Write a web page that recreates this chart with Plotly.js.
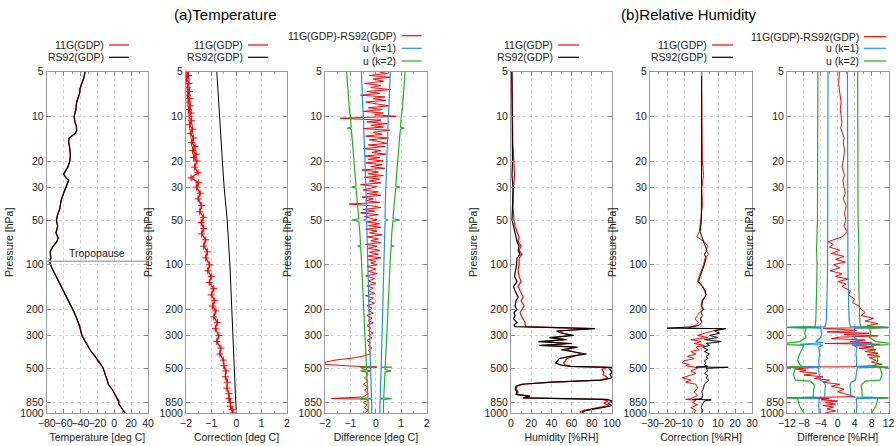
<!DOCTYPE html>
<html>
<head>
<meta charset="utf-8">
<script src="https://cdn.plot.ly/plotly-3.0.1.min.js"></script>
<style>
  html, body { margin: 0; padding: 0; background: #fff; }
  #chart { width: 896px; height: 446px; }
</style>
</head>
<body>
<div id="chart"></div>
<script>
// pressure ticks shared by all six panels
const pressureTicks = [5, 10, 20, 30, 50, 100, 200, 300, 500, 850, 1000]
const tropopause = 95

// (a) temperature [deg C]: [pressure, value]
const temp11G = [[5,-34.5],[5.5,-36],[6,-38.5],[6.5,-40.5],[7,-41],[7.5,-43],[8,-44.5],[9,-45.5],[10,-47.5],[11,-46.5],[11.5,-45],[12.5,-44.5],[13,-46],[14,-53.5],[15,-54],[16,-53],[18,-52],[20,-52.5],[22,-55],[24.5,-60],[26,-57],[27,-54],[30,-57.5],[33,-60],[37,-63],[42,-64.5],[46,-67],[50,-68.5],[55,-67],[61,-69],[66,-66.5],[70,-68],[76,-73],[82,-76],[90,-75],[96,-76.5],[105,-74],[115,-70.5],[128,-66],[142,-62],[160,-57],[180,-52.5],[204,-48.5],[230,-44.5],[260,-41],[300,-38],[340,-33],[380,-28],[420,-22],[446,-18],[470,-16],[493,-13.5],[520,-12],[560,-10.5],[600,-8],[640,-7],[700,-2],[750,1],[790,2.5],[830,4.5],[870,5.5],[920,8.5],[960,10.5],[1000,12.8]]
const tempRS92 = [[5,-34.5],[5.5,-36],[6,-38.5],[6.5,-40.5],[7,-41],[7.5,-43],[8,-44.5],[9,-45.5],[10,-47.5],[11,-46.5],[11.5,-45],[12.5,-44.5],[13,-46],[14,-53.5],[15,-54],[16,-53],[18,-52],[20,-52.5],[22,-55],[24.5,-60],[26,-57],[27,-54],[30,-57.5],[33,-60],[37,-63],[42,-64.5],[46,-67],[50,-68.5],[55,-67],[61,-69],[66,-66.5],[70,-68],[76,-73],[82,-76],[90,-75],[96,-76.5],[105,-74],[115,-70.5],[128,-66],[142,-62],[160,-57],[180,-52.5],[204,-48.5],[230,-44.5],[260,-41],[300,-38.5],[340,-33],[380,-28],[420,-22],[446,-19.5],[470,-16],[493,-13.5],[520,-12],[560,-10.5],[600,-8.5],[640,-7],[700,-2],[750,1],[790,2.5],[830,5.5],[870,5.5],[920,8.5],[960,10.5],[1000,12.8]]

const corrT11G = [[5,-1.97],[5.3,-1.9],[5.6,-1.98],[6,-1.88],[6.4,-1.95],[6.8,-1.86],[7.2,-1.94],[7.6,-1.85],[8,-1.92],[8.5,-1.83],[9,-1.9],[9.5,-1.8],[10,-1.88],[10.7,-1.78],[11.4,-1.86],[12.2,-1.74],[13,-1.83],[14,-1.7],[15,-1.78],[16,-1.64],[17,-1.74],[18,-1.6],[19,-1.7],[20,-1.57],[22,-1.66],[24,-1.52],[26,-1.8],[28,-1.5],[30,-1.58],[33,-1.44],[36,-1.52],[40,-1.38],[44,-1.46],[48,-1.3],[52,-1.4],[57,-1.3],[62,-1.38],[68,-1.22],[75,-1.3],[82,-1.15],[90,-1.22],[100,-1.06],[110,-1.14],[120,-1.0],[132,-1.08],[145,-0.9],[160,-1.0],[175,-0.86],[190,-0.95],[205,-0.82],[225,-0.9],[245,-0.76],[270,-0.84],[300,-0.7],[330,-0.78],[365,-0.62],[400,-0.66],[440,-0.52],[480,-0.5],[520,-0.42],[570,-0.44],[620,-0.36],[680,-0.38],[740,-0.3],[800,-0.3],[850,-0.24],[900,-0.24],[950,-0.17],[1000,-0.13]]
const corrTRS92 = [[5,-0.78],[10,-0.68],[20,-0.56],[30,-0.49],[50,-0.37],[100,-0.26],[200,-0.19],[300,-0.16],[500,-0.09],[850,-0.03],[1000,0.0]]

const diffT = [
  [5,0.1],[5.15,0.45],[5.3,-0.25],[5.45,0.55],[5.6,-0.1],[5.8,0.3],[6,-0.45],[6.2,0.2],[6.4,-0.2],[6.6,0.6],
  [6.8,-0.35],[7,0.15],[7.2,-0.6],[7.4,0.35],[7.6,-0.1],[7.8,0.4],[8,-0.4],[8.25,0.05],[8.5,0.5],[8.75,-0.3],
  [9,0.25],[9.25,-0.5],[9.5,0.3],[9.75,-0.05],[10,0.8],
  [10.3,-1.4],[10.6,0.2],[10.9,-0.35],[11.2,0.45],[11.5,-0.2],[11.8,0.3],[12.1,-0.5],[12.4,0.55],[12.8,-0.1],[13.2,0.25],
  [13.6,-0.4],[14,0.5],[14.4,-0.25],[14.8,0.1],[15.2,0.45],[15.6,-0.3],[16,0.35],[16.5,-0.5],[17,0.2],[17.5,-0.15],
  [18,0.4],[18.5,-0.45],[19,0.15],[19.5,-0.3],[20,0.3],
  [20.6,-0.4],[21.2,0.25],[21.8,-0.2],[22.4,0.35],[23,-0.55],[23.7,0.1],[24.4,-0.3],[25.1,0.3],[25.8,-0.45],[26.5,0.15],
  [27.3,-0.25],[28.1,0.2],[28.9,-0.6],[29.7,0.05],[30.5,-0.2],
  [31.4,-0.5],[32.3,0.1],[33.2,-0.35],[34.1,0.2],[35,-0.55],[36,-0.1],[37,-0.4],[38,0.15],[39,-1.05],[40,-0.2],
  [41.2,0.2],[42.4,-0.5],[43.6,-0.05],[44.8,-0.6],[46,0.1],[47.4,-0.45],[48.8,-0.15],[50,0.05],
  [51.5,-0.35],[53,0.15],[54.5,-0.3],[56,0.2],[57.7,-0.4],[59.4,0.05],[61,-0.25],[63,0.25],[65,-0.35],[67,0.1],
  [69,-0.2],[71,0.2],[73,-0.4],[75,0.05],[77.5,-0.3],[80,0.15],[82.5,-0.25],[85,0.1],[87.5,-0.35],[90,0.2],
  [92.5,-0.3],[95,0.0],[97.5,-0.2],[100,0.05],
  [103,-0.35],[107,0.0],[111,-0.3],[115,0.05],[119,-0.4],[124,-0.05],[129,-0.3],[134,0.0],[139,-0.35],[144,-0.1],
  [150,-0.3],[156,-0.05],[162,-0.4],[168,-0.1],[175,-0.3],[182,-0.05],[189,-0.35],[196,-0.15],[204,-0.3],[212,-0.1],
  [220,-0.35],[229,-0.15],[238,-0.3],[247,-0.1],[257,-0.35],[267,-0.2],[278,-0.3],[289,-0.1],[300,-0.3],[312,-0.15],
  [324,-0.35],[337,-0.2],[350,-0.3],[364,-0.15],[378,-0.3],[393,-0.2],[400,-0.25],
  [410,-0.4],[425,-0.85],[440,-1.6],[455,-2.0],[470,-2.0],[482,-1.0],[488,-0.3],[490,0.05],[493,-0.6],[505,-0.5],
  [520,-0.2],[535,-0.4],[550,-0.3],[580,-0.45],[610,-0.3],[640,-0.5],[670,-0.3],[700,-0.45],[740,-0.3],[780,-0.5],
  [798,-1.75],[806,-0.4],[820,-0.3],[850,-0.5],[880,-0.35],[920,-0.45],[960,-0.3],[1000,-0.45]
]
const uT1 = [[5,0.57],[6,0.56],[7,0.54],[8,0.53],[9,0.51],[10,0.49],[11,0.48],[12,0.47],[14,0.45],[16,0.44],[18,0.43],[20,0.42],[23,0.41],[26,0.4],[30,0.39],[35,0.38],[40,0.37],[45,0.36],[49,0.36],[50,0.48],[51,0.36],[60,0.35],[70,0.34],[80,0.34],[90,0.33],[100,0.33],[120,0.32],[140,0.31],[160,0.3],[180,0.29],[200,0.28],[230,0.27],[260,0.26],[300,0.25],[350,0.24],[400,0.23],[450,0.22],[488,0.21],[490,0.4],[492,0.21],[550,0.2],[600,0.19],[700,0.18],[790,0.17],[800,0.3],[810,0.17],[900,0.16],[1000,0.16]]
const uT2 = [[5,1.15],[6,1.12],[7,1.1],[8,1.07],[9,1.04],[10,1.0],[11,0.99],[11.8,0.97],[12,1.12],[12.2,0.97],[13,0.95],[15,0.92],[17,0.89],[20,0.86],[23,0.83],[26,0.8],[29.5,0.78],[30,0.95],[30.5,0.78],[35,0.75],[40,0.72],[45,0.7],[49,0.67],[50,0.95],[51,0.67],[60,0.63],[70,0.6],[74,0.6],[75,0.72],[76,0.6],[90,0.57],[100,0.56],[120,0.54],[150,0.52],[200,0.49],[250,0.46],[300,0.43],[400,0.39],[480,0.37],[488,0.37],[490,0.63],[492,0.37],[510,0.36],[520,0.6],[530,0.36],[600,0.35],[700,0.33],[790,0.31],[800,0.62],[810,0.31],[900,0.3],[1000,0.3]]

// (b) relative humidity [%RH]
const rh11G = [[5,1.0],[7,1.5],[10,1.5],[15,1.8],[20,2.5],[25,3.5],[30,2.5],[40,2.0],[50,3.0],[55,4],[60,6],[65,8],[70,7],[75,10],[80,8],[85,11],[90,8],[100,8],[110,7],[120,8],[130,10],[140,7],[150,9],[165,12],[175,10],[190,13],[200,11],[210,9],[220,10],[232,12],[245,14],[255,14],[262,15],[270,80],[280,48],[290,52],[300,60],[310,42],[320,52],[330,32],[340,56],[350,35],[360,62],[375,55],[385,62],[400,70],[415,62],[430,55],[445,54],[460,52],[475,54],[485,60],[492,95],[510,90],[530,92],[550,91],[580,96],[600,88],[620,42],[640,12],[660,6],[690,5],[720,7],[750,6],[770,18],[790,12],[810,90],[830,96],[860,92],[890,97],[910,90],[940,78],[960,72],[985,68],[1000,70]]
const rhRS92 = [[5,0.8],[7,1.0],[10,1.2],[15,1.0],[20,1.5],[25,1.0],[30,2.0],[40,1.5],[50,1.0],[55,2.5],[60,3.5],[65,5],[70,6],[75,8],[80,7],[85,9],[90,6],[100,5.5],[110,4.5],[120,3.5],[130,6],[140,2.5],[150,4],[165,7],[175,5],[190,4],[200,6],[210,3],[220,4],[232,2.5],[245,6],[255,3],[262,4],[270,83],[280,45],[290,50],[300,62],[310,38],[320,55],[330,27],[340,60],[350,28],[360,66],[375,50],[385,60],[400,75],[415,58],[430,48],[445,46],[460,44],[475,50],[485,58],[492,100],[510,98],[530,100],[550,98],[580,100],[600,90],[620,40],[640,10],[660,5],[690,4],[720,6],[750,5],[770,19],[790,12],[810,95],[830,100],[860,96],[890,100],[910,94],[940,80],[960,75],[985,70],[1000,72]]

const corrRH11G = [[5,0.3],[10,0.6],[15,1.0],[20,0.8],[25,1.5],[30,0.5],[40,0.8],[50,-0.2],[60,-1.0],[65,-2.5],[70,2.0],[75,4.0],[80,3.0],[85,4.5],[90,2.5],[100,1.5],[110,0.0],[120,-1.0],[130,-2.0],[140,0.5],[150,2.0],[160,3.0],[175,0.5],[190,0.0],[200,1.0],[210,-1.0],[220,-2.0],[232,-3.5],[245,-1.5],[255,-3.0],[262,-5.5],[268,-8],[270,12],[280,6],[290,2],[300,-2],[310,4],[320,-6],[330,0],[340,-4],[350,2],[360,-3],[375,-1],[385,-6],[400,-3],[415,-8],[430,-4],[445,-10],[460,-11],[470,-7],[480,-9],[490,-4],[500,-2],[520,-6],[540,-3],[560,-7],[580,-11],[600,-6],[620,-9],[640,-3],[680,-2],[720,-4],[760,-2],[800,-6],[810,-9],[820,-3],[850,-5],[880,-2],[920,-6],[960,-3],[1000,-4]]
const corrRHRS92 = [[5,0.4],[10,0.5],[20,0.5],[30,0.3],[50,0.2],[60,-0.5],[70,1.5],[75,2.5],[80,3.5],[85,2.0],[90,3.0],[100,2.0],[110,0.5],[120,-0.5],[130,-1.5],[140,1.0],[150,2.5],[160,3.0],[175,1.0],[190,0.5],[200,1.5],[210,0.0],[220,1.0],[232,-0.5],[245,0.5],[255,-1.0],[262,-4],[268,-20],[270,14.5],[280,8],[290,11],[300,5],[310,10],[320,2],[330,12],[340,3],[350,5],[360,1],[375,4],[385,2],[400,5],[415,3],[430,4],[445,2],[460,3],[475,2],[485,4],[490,-3],[492,16],[500,3],[520,4],[540,2],[560,4],[580,3],[600,4.5],[620,3],[640,2],[680,1.5],[720,0.5],[760,1],[800,0.5],[810,-5],[815,6],[830,2],[860,1],[890,0.5],[920,0],[960,1],[1000,0.5]]

const diffRH = [[5,0.4],[6,0.2],[7,0.5],[8,0.8],[9,0.6],[10,0.8],[11,1.0],[12,0.7],[13,1.2],[14,1.5],[15,1.3],[17,1.6],[20,1.3],[22,1.0],[25,1.6],[27,1.2],[30,1.5],[33,1.8],[36,1.3],[40,2.0],[45,1.6],[50,1.9],[55,1.5],[60,2.2],[65,1.0],[70,-2.3],[73,-1.0],[76,-2.0],[80,0.5],[84,-1.5],[88,1.5],[92,-0.5],[96,1.8],[100,-1.0],[105,0.5],[110,-1.8],[115,1.0],[120,-0.5],[125,2.5],[130,0.0],[135,2.0],[140,1.0],[150,3.0],[160,2.5],[170,4.0],[180,3.5],[190,5.0],[200,5.5],[210,6.5],[220,5.5],[230,8.5],[240,6.5],[250,9.5],[258,7.0],[263,9.5],[266,12],[268,-3.5],[272,0.0],[278,4.5],[284,-2.5],[290,7.5],[296,1.5],[302,9.5],[308,0.5],[315,-1.5],[322,6.5],[330,3.0],[336,8.0],[340,-3.0],[344,10],[350,3.5],[358,8.5],[366,5.0],[375,9.0],[385,6.5],[395,9.5],[405,7.0],[415,10],[425,7.5],[440,9.0],[455,8.0],[470,10.5],[480,8.0],[488,3.0],[490,-9.5],[495,-6.5],[505,-10],[515,-7.5],[525,-9.0],[540,-5.0],[555,-8.0],[570,-3.5],[585,-5.5],[600,-2.0],[620,-3.5],[640,0.5],[660,-1.5],[690,1.5],[720,0.0],[750,2.5],[775,4.0],[790,-9.5],[800,-2.0],[815,-4.0],[830,0.0],[850,-3.0],[870,-0.5],[890,-3.5],[910,-1.0],[940,-2.5],[970,-0.5],[1000,-3.0]]
const uRH1 = [[5,2.3],[20,2.3],[50,2.4],[100,2.4],[150,2.5],[200,2.6],[240,2.7],[262,3.0],[265,12],[268,4.0],[290,3.8],[310,4.0],[330,5.2],[336,3.5],[340,9],[344,9],[348,3.5],[360,4.5],[400,4.3],[450,4.5],[485,4.4],[490,12],[495,4.6],[550,4.4],[600,4.2],[620,3.2],[650,2.9],[700,3.0],[780,3.1],[790,12],[800,4.4],[900,4.5],[1000,4.4]]
const uRH2 = [[5,4.7],[20,4.7],[50,4.8],[80,5.0],[100,4.9],[150,5.0],[200,5.1],[240,5.2],[262,5.4],[265,12],[268,7.5],[290,7.8],[310,7.5],[330,9.0],[338,12],[346,12],[350,8.0],[370,8.5],[400,9.0],[440,9.5],[470,9.0],[485,8.5],[490,12],[495,10.0],[550,10.5],[600,10.0],[610,6.5],[650,5.5],[700,5.7],[780,5.8],[790,12],[800,9.5],[900,9.0],[1000,8.0]]

const RED = '#ff0000', BLACK = '#000000', BLUE = '#1f8ff0', GREEN = '#1fb01f'
const FONT = 'Liberation Sans, Arial, sans-serif'
const W = 896, H = 446

// panel frames in pixels: [left, right]
const panels = [[46.7, 148], [186, 287], [325, 426.7], [511, 612], [650, 752], [787, 888.5]]
const plotTop = 71.7, plotBottom = 413

const xRanges = [[-80, 40], [-2, 2], [-2, 2], [0, 100], [-30, 30], [-12, 12]]
const xSteps = [20, 1, 1, 20, 10, 4]
const xTitles = ['Temperature [deg C]', 'Correction [deg C]', 'Difference [deg C]',
                 'Humidity [%RH]', 'Correction [%RH]', 'Difference [%RH]']

function line(series, panel, color, width, sign) {
    const s = sign || 1
    return {
        x: series.map(d => s * d[1]),
        y: series.map(d => d[0]),
        type: 'scatter',
        mode: 'lines',
        xaxis: 'x' + (panel === 1 ? '' : panel),
        yaxis: 'y' + (panel === 1 ? '' : panel),
        line: { color: color, width: width || 1 },
        hoverinfo: 'skip'
    }
}

// correction of 11G temperature is drawn as line + small crosses
let corrTrace = line(corrT11G, 2, RED, 1.4)
corrTrace.mode = 'lines+markers'
corrTrace.marker = { symbol: 'cross-thin', size: 5, line: { color: RED, width: 1 } }

let data = [
    line(temp11G, 1, RED, 1.2),
    line(tempRS92, 1, BLACK, 1.2),
    {
        x: xRanges[0], y: [tropopause, tropopause], type: 'scatter', mode: 'lines',
        xaxis: 'x', yaxis: 'y', line: { color: '#aaaaaa', width: 1.5 }, hoverinfo: 'skip'
    },
    corrTrace,
    line(corrTRS92, 2, BLACK, 1),
    line(diffT, 3, RED, 1),
    line(uT1, 3, BLUE, 1.2), line(uT1, 3, BLUE, 1.2, -1),
    line(uT2, 3, GREEN, 1.2), line(uT2, 3, GREEN, 1.2, -1),
    line(rh11G, 4, RED, 1.2),
    line(rhRS92, 4, BLACK, 1.2),
    line(corrRH11G, 5, RED, 1),
    line(corrRHRS92, 5, BLACK, 1),
    line(diffRH, 6, RED, 1),
    line(uRH1, 6, BLUE, 1.2), line(uRH1, 6, BLUE, 1.2, -1),
    line(uRH2, 6, GREEN, 1.2), line(uRH2, 6, GREEN, 1.2, -1)
]

const tickFont = { family: FONT, size: 10.5, color: '#222' }

let layout = {
    width: W, height: H,
    margin: { l: 0, r: 0, t: 0, b: 0 },
    paper_bgcolor: '#fff', plot_bgcolor: '#fff',
    showlegend: false,
    hovermode: false,
    font: { family: FONT, size: 10.5, color: '#222' },
    annotations: [],
    shapes: []
}

const yDomain = [1 - plotBottom / H, 1 - plotTop / H]

panels.forEach((px, i) => {
    const n = i === 0 ? '' : String(i + 1)
    layout['xaxis' + n] = {
        domain: [px[0] / W, px[1] / W],
        anchor: 'y' + n,
        range: xRanges[i],
        dtick: xSteps[i],
        tick0: xRanges[i][0],
        tickangle: 0,
        ticklabeloverflow: 'allow',
        ticks: 'inside', ticklen: 4, tickcolor: '#888',
        showline: true, mirror: 'allticks', linecolor: '#999', linewidth: 1,
        showgrid: true, gridcolor: '#d2d2d2', griddash: 'dot', gridwidth: 1,
        minor: { dtick: xSteps[i] / 2, ticks: 'inside', ticklen: 2, tickcolor: '#999', showgrid: false },
        zeroline: false,
        tickfont: tickFont,
        title: { text: xTitles[i], font: { family: FONT, size: 10.5, color: '#222' }, standoff: 6 },
        fixedrange: true
    }
    layout['yaxis' + n] = {
        domain: yDomain,
        anchor: 'x' + n,
        type: 'log',
        range: [3, Math.log10(5)],
        tickvals: pressureTicks,
        ticktext: pressureTicks.map(String),
        ticks: 'inside', ticklen: 4, tickcolor: '#888',
        showline: true, mirror: 'allticks', linecolor: '#999', linewidth: 1,
        showgrid: true, gridcolor: '#d2d2d2', griddash: 'dot', gridwidth: 1,
        zeroline: false,
        tickfont: tickFont,
        title: { text: 'Pressure [hPa]', font: { family: FONT, size: 10.5, color: '#222' }, standoff: 4 },
        fixedrange: true
    }
})

// group titles
layout.annotations.push(
    { xref: 'paper', yref: 'paper', x: 225 / W, y: 1 - 15 / H, text: '(a)Temperature',
      showarrow: false, xanchor: 'center', yanchor: 'middle', font: { family: FONT, size: 15, color: '#000' } },
    { xref: 'paper', yref: 'paper', x: 689 / W, y: 1 - 15 / H, text: '(b)Relative Humidity',
      showarrow: false, xanchor: 'center', yanchor: 'middle', font: { family: FONT, size: 15, color: '#000' } }
)

// key boxes above each panel: text right edge, line start, line end, rows
const keys = [
    { tx: 106, l0: 109, l1: 129, rows: [45, 57.3], labels: ['11G(GDP)', 'RS92(GDP)'], colors: [RED, BLACK] },
    { tx: 245, l0: 248, l1: 268, rows: [45, 57.3], labels: ['11G(GDP)', 'RS92(GDP)'], colors: [RED, BLACK] },
    { tx: 398, l0: 401.7, l1: 421.7, rows: [35.7, 48.3, 61], labels: ['11G(GDP)-RS92(GDP)', 'u (k=1)', 'u (k=2)'], colors: [RED, BLUE, GREEN] },
    { tx: 555, l0: 558, l1: 579, rows: [45, 57.3], labels: ['11G(GDP)', 'RS92(GDP)'], colors: [RED, BLACK] },
    { tx: 709, l0: 712, l1: 733, rows: [45, 57.3], labels: ['11G(GDP)', 'RS92(GDP)'], colors: [RED, BLACK] },
    { tx: 861, l0: 864, l1: 886, rows: [36.7, 48.3, 61], labels: ['11G(GDP)-RS92(GDP)', 'u (k=1)', 'u (k=2)'], colors: [RED, BLUE, GREEN] }
]
keys.forEach(k => {
    k.rows.forEach((ry, j) => {
        layout.annotations.push({
            xref: 'paper', yref: 'paper', x: k.tx / W, y: 1 - ry / H, text: k.labels[j],
            showarrow: false, xanchor: 'right', yanchor: 'middle',
            font: { family: FONT, size: 10.5, color: '#222' }
        })
        layout.shapes.push({
            type: 'line', xref: 'paper', yref: 'paper',
            x0: k.l0 / W, x1: k.l1 / W, y0: 1 - ry / H, y1: 1 - ry / H,
            line: { color: k.colors[j], width: 1.2 }
        })
    })
})

// tropopause label in panel (a)
layout.annotations.push({
    xref: 'x', yref: 'y', x: -21, y: Math.log10(tropopause), text: 'Tropopause',
    showarrow: false, xanchor: 'center', yanchor: 'bottom', yshift: 0,
    font: { family: FONT, size: 10.5, color: '#222' }
})

Plotly.newPlot('chart', data, layout, { displayModeBar: false, staticPlot: true })
</script>
</body>
</html>
